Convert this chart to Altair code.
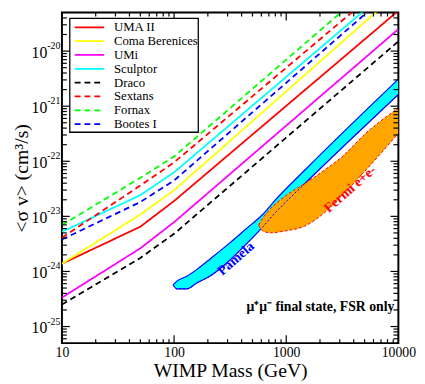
import altair as alt
import pandas as pd

SERIF = "Liberation Serif"

# ---------------- data ----------------
masses = [10, 50, 100, 10000]
names = ["UMA II", "Coma Berenices", "UMi", "Sculptor", "Draco", "Sextans", "Fornax", "Bootes I"]
colors = ["#ff0000", "#ffff00", "#ff00ff", "#00ffff", "#000000", "#ff0000", "#00ff00", "#0000ff"]
dashes = [[1, 0], [1, 0], [1, 0], [1, 0], [6, 4], [6, 4], [6, 4], [6, 4]]

uma2 = [1.38e-24, 6.5e-24, 1.9e-23, 5.4e-20]
coma = [1.38e-24, 1.08e-23, 2.98e-23, 1.16e-19]
umi = [3.36e-25, 2.63e-24, 7.85e-24, 2.5e-20]
sculptor = [5.25e-24, 2.43e-23, 6.3e-23, 1.84e-19]
draco = [2.5e-25, 1.76e-24, 4.83e-24, 1.5e-20]
sextans = [4.1e-24, 3.63e-23, 9.55e-23, 2.6e-19]
fornax = [6.95e-24, 5.0e-23, 1.22e-22, 4.0e-19]
bootes = [3.8e-24, 1.82e-23, 4.47e-23, 1.58e-19]
series = [uma2, coma, umi, sculptor, draco, sextans, fornax, bootes]

# Pamela region (upper / lower edges)
pam_mass = [98, 106, 130, 159, 215, 310, 437, 616, 801, 1468, 10000]
pam_upper = [5.68e-25, 6.68e-25, 8.17e-25, 1.08e-24, 1.76e-24, 3.23e-24, 5.9e-24, 1.08e-23, 1.99e-23, 6.95e-23, 3.1e-21]
pam_lower = [5.68e-25, 4.83e-25, 4.83e-25, 6.15e-25, 8.5e-25, 1.56e-24, 3.1e-24, 6.4e-24, 1.17e-23, 3.95e-23, 1.63e-21]

# Fermi e+e- region
fermi_mass = [568, 616, 724, 980, 1468, 2197, 3097, 5237, 10000]
fermi_upper = [6.95e-24, 9.2e-24, 1.38e-23, 2.33e-23, 3.95e-23, 6.95e-23, 1.17e-22, 3.36e-22, 9.2e-22]
fermi_lower = [6.95e-24, 5.45e-24, 5.03e-24, 5.45e-24, 6.68e-24, 1.17e-23, 2.33e-23, 7.24e-23, 3.23e-22]

# ticks
xtick_major = [10, 100, 1000, 10000]
xtick_minor = [k * 10 ** e for e in (1, 2, 3) for k in range(2, 10)]
ytick_major = [1e-25, 1e-24, 1e-23, 1e-22, 1e-21, 1e-20]
ytick_exp = ["-25", "-24", "-23", "-22", "-21", "-20"]
ytick_minor = [k * 1e-26 for k in (6, 7, 8, 9)] + [k * 10.0 ** e for e in range(-25, -20) for k in range(2, 10)] + [2e-20, 3e-20, 4e-20]

# annotations
ann_text = ["Pamela", "Fermi e+e-"]
ann_mass = [357, 3715]
ann_sv = [1.69e-24, 3.1e-23]
ann_color = ["#0000ff", "#ff0000"]
mu_label = ["μ⁺μ⁻ final state, FSR only"]
mu_mass = [9200]
mu_sv = [1.9e-25]

# ---------------- tables ----------------
curves = pd.DataFrame([
    {"name": n, "mass": m, "sv": v}
    for n, vals in zip(names, series) for m, v in zip(masses, vals)
])
pam = pd.DataFrame({"mass": pam_mass, "up": pam_upper, "lo": pam_lower})
pam_edges = pd.DataFrame(
    [{"edge": "upper", "mass": m, "sv": v} for m, v in zip(pam_mass, pam_upper)]
    + [{"edge": "lower", "mass": m, "sv": v} for m, v in zip(pam_mass, pam_lower)]
)
fermi = pd.DataFrame({"mass": fermi_mass, "up": fermi_upper, "lo": fermi_lower})
fermi_edges = pd.DataFrame(
    [{"edge": "upper", "mass": m, "sv": v} for m, v in zip(fermi_mass, fermi_upper)]
    + [{"edge": "lower", "mass": m, "sv": v} for m, v in zip(fermi_mass, fermi_lower)]
)
legend_df = pd.DataFrame({"name": names, "idx": list(range(len(names)))})
xmaj = pd.DataFrame({"mass": xtick_major})
xmin = pd.DataFrame({"mass": xtick_minor})
ymaj = pd.DataFrame({"sv": ytick_major, "e": ytick_exp})
ymin = pd.DataFrame({"sv": ytick_minor})
ann = pd.DataFrame({"t": ann_text, "mass": ann_mass, "sv": ann_sv, "c": ann_color})
mu = pd.DataFrame({"t": mu_label, "mass": mu_mass, "sv": mu_sv})
one = pd.DataFrame({"a": [0]})

W, H = 343, 337

xscale = alt.Scale(type="log", domain=[10, 10000], nice=False)
yscale = alt.Scale(type="log", domain=[5e-26, 5e-20], nice=False)
xaxis = alt.Axis(values=xtick_major, format="d", title="WIMP Mass (GeV)",
                 labelFont=SERIF, labelFontSize=14, labelColor="black", labelPadding=3,
                 ticks=False, domain=False, grid=False, labelOverlap=False, labelFlush=False,
                 titleFont=SERIF, titleFontSize=20, titleFontWeight="normal",
                 titleColor="black", titlePadding=1)
yaxis = alt.Axis(values=ytick_major, labels=False, ticks=False, domain=False, grid=False,
                 title="<σ v> (cm³/s)", titleFont=SERIF, titleFontSize=20,
                 titleFontWeight="normal", titleColor="black",
                 titleX=-41, titleY=H / 2, titleBaseline="middle", titleAlign="center")


def xe(f):
    return alt.X(f, type="quantitative", scale=xscale, axis=xaxis)


def ye(f):
    return alt.Y(f, type="quantitative", scale=yscale, axis=yaxis)


color_enc = alt.Color("name:N", scale=alt.Scale(domain=names, range=colors), legend=None)
dash_enc = alt.StrokeDash("name:N", scale=alt.Scale(domain=names, range=dashes), legend=None)

pam_area = alt.Chart(pam).mark_area(color="#00ffff", interpolate="monotone", clip=True).encode(
    x=xe("mass"), y=ye("up"), y2=alt.Y2("lo"))
pam_line = alt.Chart(pam_edges).mark_line(color="#0000ff", strokeWidth=1.2, interpolate="monotone", clip=True).encode(
    x=xe("mass"), y=ye("sv"), detail="edge:N")
fermi_area = alt.Chart(fermi).mark_area(color="#ffa500", interpolate="monotone", clip=True).encode(
    x=xe("mass"), y=ye("up"), y2=alt.Y2("lo"))
pam_dot = alt.Chart(pam_edges).transform_filter("datum.edge == 'lower'").mark_line(
    color="#0000ff", strokeWidth=1, strokeDash=[2, 2], interpolate="monotone", clip=True).encode(
    x=xe("mass"), y=ye("sv"))
fermi_line = alt.Chart(fermi_edges).mark_line(color="#ff0000", strokeWidth=1, strokeDash=[3, 2], interpolate="monotone", clip=True).encode(
    x=xe("mass"), y=ye("sv"), detail="edge:N")

lines = alt.Chart(curves).mark_line(strokeWidth=1.8, clip=True).encode(
    x=xe("mass"), y=ye("sv"), color=color_enc, strokeDash=dash_enc, detail="name:N")

tick_style = dict(color="black", strokeWidth=1.2)
xt_bot_maj = alt.Chart(xmaj).mark_rule(**tick_style).encode(x=xe("mass"), y=alt.value(H), y2=alt.value(H - 8))
xt_top_maj = alt.Chart(xmaj).mark_rule(**tick_style).encode(x=xe("mass"), y=alt.value(0), y2=alt.value(8))
xt_bot_min = alt.Chart(xmin).mark_rule(**tick_style).encode(x=xe("mass"), y=alt.value(H), y2=alt.value(H - 4))
xt_top_min = alt.Chart(xmin).mark_rule(**tick_style).encode(x=xe("mass"), y=alt.value(0), y2=alt.value(4))
yt_l_maj = alt.Chart(ymaj).mark_rule(**tick_style).encode(y=ye("sv"), x=alt.value(0), x2=alt.value(8))
yt_r_maj = alt.Chart(ymaj).mark_rule(**tick_style).encode(y=ye("sv"), x=alt.value(W), x2=alt.value(W - 8))
yt_l_min = alt.Chart(ymin).mark_rule(**tick_style).encode(y=ye("sv"), x=alt.value(0), x2=alt.value(5))
yt_r_min = alt.Chart(ymin).mark_rule(**tick_style).encode(y=ye("sv"), x=alt.value(W), x2=alt.value(W - 5))

ylab10 = alt.Chart(ymaj).mark_text(align="right", baseline="middle", dy=2, font=SERIF, fontSize=16, color="black").encode(
    y=ye("sv"), x=alt.value(-15), text=alt.value("10"))
ylabexp = alt.Chart(ymaj).mark_text(align="left", baseline="middle", dy=-5, font=SERIF, fontSize=10, color="black").encode(
    y=ye("sv"), x=alt.value(-15), text="e:N")

leg_box = alt.Chart(one).mark_rect(fill="white", stroke="black", strokeWidth=1.3).encode(
    x=alt.value(8), x2=alt.value(139), y=alt.value(6), y2=alt.value(122))
leg_lines = alt.Chart(legend_df).transform_calculate(ly="15 + 14.1 * datum.idx").mark_rule(strokeWidth=1.8).encode(
    x=alt.value(13), x2=alt.value(43), y=alt.Y("ly:Q", scale=None, axis=None), color=color_enc, strokeDash=dash_enc)
leg_text = alt.Chart(legend_df).transform_calculate(ly="15 + 14.1 * datum.idx").mark_text(
    align="left", baseline="middle", font=SERIF, fontSize=13, color="black").encode(
    x=alt.value(53), y=alt.Y("ly:Q", scale=None, axis=None), text="name:N")

ann_layer = alt.Chart(ann).mark_text(angle=319, font=SERIF, fontSize=14, fontWeight="bold",
                                     align="center", baseline="middle").encode(
    x=xe("mass"), y=ye("sv"), text="t:N", color=alt.Color("c:N", scale=None))
mu_text = alt.Chart(mu).mark_text(
    align="right", baseline="alphabetic", font=SERIF, fontSize=14, fontWeight="bold", color="black").encode(
    x=xe("mass"), y=ye("sv"), text="t:N")

chart = alt.layer(
    pam_area, pam_line, fermi_area, pam_dot, fermi_line, lines,
    xt_bot_maj, xt_top_maj, xt_bot_min, xt_top_min, yt_l_maj, yt_r_maj, yt_l_min, yt_r_min,
    ylab10, ylabexp, leg_box, leg_lines, leg_text, ann_layer, mu_text,
).properties(
    width=W, height=H,
    autosize=alt.AutoSizeParams(type="none"),
    padding={"left": 55, "top": 1, "right": 19, "bottom": 38},
    background="white",
).configure_view(stroke="black", strokeWidth=2)

chart.save("out.html", embed_options={"renderer": "svg", "actions": False})
